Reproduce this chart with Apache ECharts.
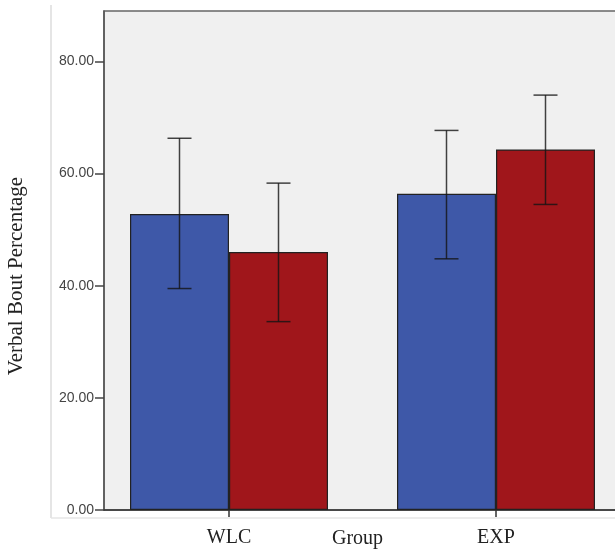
<!DOCTYPE html>
<html>
<head>
<meta charset="utf-8">
<script src="https://cdn.jsdelivr.net/npm/echarts@6/dist/echarts.min.js"></script>
<style>
  html, body { margin: 0; padding: 0; background: #fff; }
  #chart { width: 615px; height: 550px; }
</style>
</head>
<body>
<div id="chart"></div>
<script>
// groups on the x axis (placed at x = 1, 2)
const groups = ['WLC', 'EXP'];
const groupPos = [1, 2];

// bar means, blue and red series
const blueMeans = [52.8, 56.4];
const redMeans = [46.0, 64.3];

// error bar ends [low, high]
const blueErr = [[39.5, 66.3], [44.8, 67.7]];
const redErr = [[33.6, 58.3], [54.5, 74.0]];

const yTicks = [0, 20, 40, 60, 80];

const BAR_W = 99;
const serif = '"Liberation Serif", "DejaVu Serif", serif';

const chartDom = document.getElementById('chart');
const myChart = echarts.init(chartDom);

const errSeries = (errs, side) => ({
  type: 'custom',
  z: 5,
  data: errs.map((e, i) => [groupPos[i], e[0], e[1]]),
  renderItem: (params, api) => {
    const lo = api.coord([api.value(0), api.value(1)]);
    const hi = api.coord([api.value(0), api.value(2)]);
    const x = lo[0] + side * BAR_W / 2;
    const cap = 12;
    const style = { stroke: 'rgba(20,20,20,0.8)', lineWidth: 1.5 };
    return {
      type: 'group',
      children: [
        { type: 'line', shape: { x1: x, y1: hi[1], x2: x, y2: lo[1] }, style },
        { type: 'line', shape: { x1: x - cap, y1: hi[1], x2: x + cap, y2: hi[1] }, style },
        { type: 'line', shape: { x1: x - cap, y1: lo[1], x2: x + cap, y2: lo[1] }, style },
      ],
    };
  },
});

const option = {
  animation: false,
  grid: {
    left: 104,
    right: -5,
    top: 11,
    bottom: 40,
    containLabel: false,
    outerBoundsMode: 'none',
    show: true,
    backgroundColor: '#f0f0f0',
    borderColor: '#666',
    borderWidth: 1.5,
  },
  graphic: [
    { type: 'line', shape: { x1: 51, y1: 5, x2: 51, y2: 518 }, style: { stroke: '#dcdcdc', lineWidth: 1.5 } },
    { type: 'line', shape: { x1: 51, y1: 518, x2: 615, y2: 518 }, style: { stroke: '#e6e6e6', lineWidth: 1.5 } },
    {
      type: 'text',
      x: 16,
      y: 276,
      rotation: Math.PI / 2,
      style: {
        text: 'Verbal Bout Percentage',
        font: '21px ' + serif,
        fill: '#222',
        align: 'center',
        verticalAlign: 'middle',
      },
    },
  ],
  xAxis: {
    type: 'value',
    min: 1 - 125 / 267,
    max: 2 + 124 / 267,
    splitLine: { show: false },
    axisLine: { lineStyle: { color: '#333', width: 1.5 } },
    axisTick: { customValues: groupPos, length: 7, lineStyle: { color: '#333', width: 1.5 } },
    axisLabel: {
      customValues: groupPos,
      formatter: (v) => groups[groupPos.indexOf(v)],
      margin: 18,
      fontFamily: serif,
      fontSize: 20,
      color: '#222',
    },
    name: 'Group',
    nameLocation: 'middle',
    nameGap: 19,
    nameMoveOverlap: false,
    nameTextStyle: {
      fontFamily: serif,
      fontSize: 20,
      color: '#222',
      verticalAlign: 'top',
      padding: [0, 9, 0, 0],
    },
  },
  yAxis: {
    type: 'value',
    min: 0,
    max: 89,
    interval: 20,
    splitLine: { show: false },
    axisLine: { show: true, lineStyle: { color: '#555', width: 1.5 } },
    axisTick: { show: true, customValues: yTicks, length: 9, lineStyle: { color: '#444', width: 1.5 } },
    axisLabel: {
      customValues: yTicks,
      formatter: (v) => v.toFixed(2),
      margin: 10,
      fontFamily: '"Liberation Sans", Arial, sans-serif',
      fontSize: 14,
      color: '#444',
    },
  },
  series: [
    {
      type: 'bar',
      barWidth: BAR_W,
      barGap: '0%',
      data: blueMeans.map((v, i) => [groupPos[i], v]),
      itemStyle: { color: '#3e58a8', borderColor: '#222', borderWidth: 1.2 },
    },
    {
      type: 'bar',
      barWidth: BAR_W,
      barGap: '0%',
      data: redMeans.map((v, i) => [groupPos[i], v]),
      itemStyle: { color: '#a0161b', borderColor: '#222', borderWidth: 1.2 },
    },
    errSeries(blueErr, -1),
    errSeries(redErr, 1),
  ],
};

myChart.setOption(option);
window.addEventListener('resize', myChart.resize);
</script>
</body>
</html>
